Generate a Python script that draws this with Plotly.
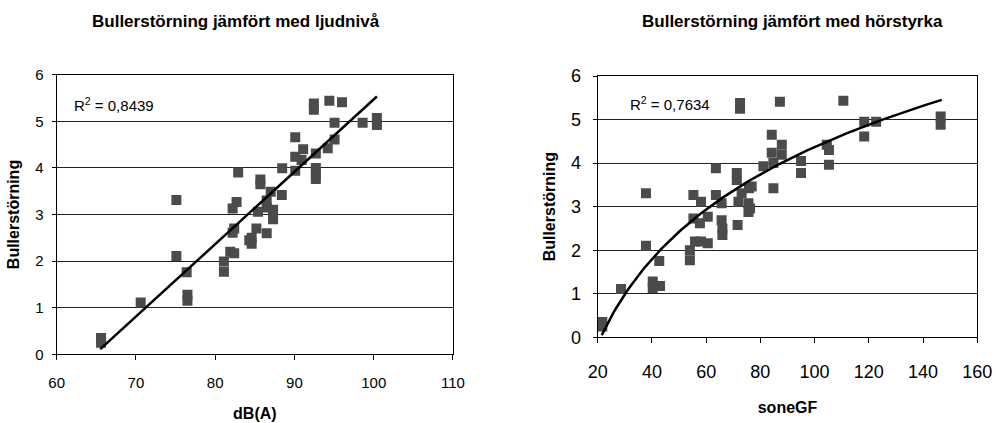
import numpy as np
import plotly.graph_objects as go

# Left chart: Bullerstörning vs dB(A)
dba_x = [65.6, 65.6, 70.6, 75.1, 75.1, 76.4, 76.5, 76.5, 81.1, 81.1, 81.9, 82.4,
         82.2, 82.4, 82.2, 82.7, 82.9, 84.3, 84.6, 84.6, 85.2, 85.4, 85.7, 85.7,
         86.5, 86.5, 86.5, 87.0, 87.3, 87.3, 87.3, 88.4, 88.45, 90.1, 90.1, 90.1,
         90.9, 91.1, 92.7, 92.7, 92.7, 92.7, 92.45, 92.45, 94.2, 94.4, 95.06, 95.06,
         96.0, 98.6, 100.4, 100.4]
dba_y = [0.35, 0.25, 1.11, 3.31, 2.11, 1.76, 1.28, 1.15, 1.99, 1.77, 2.20, 2.17,
         2.61, 2.70, 3.13, 3.27, 3.90, 2.45, 2.50, 2.37, 2.70, 3.06, 3.75, 3.65,
         2.60, 3.30, 3.15, 3.49, 3.10, 3.00, 2.90, 3.42, 3.99, 3.94, 4.24, 4.66,
         4.17, 4.40, 4.31, 4.00, 3.88, 3.76, 5.25, 5.38, 4.42, 5.44, 4.61, 4.97,
         5.41, 4.97, 5.07, 4.92]

# Right chart: Bullerstörning vs soneGF
sone_x = [21.7, 21.7, 28.6, 37.8, 37.8, 42.7, 40.3, 40.3, 43.0, 54.0, 54.0, 55.9,
          58.1, 60.6, 55.3, 58.1, 55.3, 57.7, 60.6, 63.6, 63.6, 65.7, 65.7, 66.0,
          66.0, 71.3, 71.3, 71.9, 71.6, 73.1, 75.8, 75.6, 75.6, 72.5, 72.5, 87.2,
          110.6, 146.5, 146.5, 118.3, 122.7, 118.3, 84.2, 87.9, 104.5, 105.3, 84.2,
          87.9, 81.1, 84.8, 95.0, 95.0, 105.3, 76.8, 84.8, 76.2]
sone_y = [0.35, 0.25, 1.11, 3.31, 2.10, 1.75, 1.28, 1.13, 1.18, 2.00, 1.77, 2.20,
          2.20, 2.16, 3.27, 3.11, 2.73, 2.62, 2.77, 3.88, 3.27, 3.08, 2.69, 2.50,
          2.35, 3.77, 3.61, 3.11, 2.58, 3.31, 3.42, 3.08, 2.88, 5.38, 5.25, 5.41,
          5.43, 5.07, 4.88, 4.95, 4.95, 4.61, 4.65, 4.42, 4.42, 4.30, 4.24, 4.19,
          3.93, 4.00, 4.05, 3.77, 3.96, 3.46, 3.42, 2.96]

# Trend line parameters
left_trend = [0.1553, -10.06]          # y = slope*x + intercept
left_trend_range = [65.5, 100.4]
right_trend = [2.81, -8.57]            # y = a*ln(x) + b
right_trend_range = [21.5, 146.9]

left_title = "Bullerstörning jämfört med ljudnivå"
right_title = "Bullerstörning jämfört med hörstyrka"
y_title = "Bullerstörning"
left_xtitle = "dB(A)"
right_xtitle = "soneGF"
left_r2 = "R<sup>2</sup> = 0,8439"
right_r2 = "R<sup>2</sup> = 0,7634"

lt_x = np.linspace(left_trend_range[0], left_trend_range[1], 50)
lt_y = left_trend[0] * lt_x + left_trend[1]
rt_x = np.linspace(right_trend_range[0], right_trend_range[1], 150)
rt_y = right_trend[0] * np.log(rt_x) + right_trend[1]

FONT = "Liberation Sans, Arial, sans-serif"
MC = "#4b4b4b"

fig = go.Figure()
fig.add_trace(go.Scatter(x=dba_x, y=dba_y, mode="markers", xaxis="x", yaxis="y",
                         marker=dict(symbol="square", size=10, color=MC), showlegend=False))
fig.add_trace(go.Scatter(x=lt_x, y=lt_y, mode="lines", xaxis="x", yaxis="y",
                         line=dict(color="black", width=2.5), showlegend=False))
fig.add_trace(go.Scatter(x=sone_x, y=sone_y, mode="markers", xaxis="x2", yaxis="y2",
                         marker=dict(symbol="square", size=10, color=MC), showlegend=False))
fig.add_trace(go.Scatter(x=rt_x, y=rt_y, mode="lines", xaxis="x2", yaxis="y2",
                         line=dict(color="black", width=2.5), showlegend=False))

common_x = dict(showgrid=False, zeroline=False, showline=True, linecolor="black", linewidth=1,
                mirror=True, ticks="outside", ticklen=5, tickcolor="black", automargin=False)
common_y = dict(showgrid=True, gridcolor="#222", gridwidth=1, zeroline=False, showline=True,
                linecolor="black", linewidth=1, mirror=True, ticks="outside", ticklen=4,
                tickcolor="black", range=[0, 6], dtick=1, automargin=False)

fig.update_layout(
    width=996, height=423, margin=dict(l=0, r=0, t=0, b=0, pad=0),
    paper_bgcolor="white", plot_bgcolor="white",
    font=dict(family=FONT, color="black"),
    xaxis=dict(domain=[0.0569, 0.4548], range=[60, 110], dtick=10, anchor="y",
               tickfont=dict(size=15), ticklabelstandoff=10,
               title=dict(text="<b>" + left_xtitle + "</b>", font=dict(size=16), standoff=17),
               **common_x),
    yaxis=dict(domain=[0.1624, 0.8234], anchor="x", tickfont=dict(size=15), ticklabelstandoff=5,
               title=dict(text="<b>" + y_title + "</b>", font=dict(size=16), standoff=11),
               **common_y),
    xaxis2=dict(domain=[0.6001, 0.9812], range=[20, 160], dtick=20, anchor="y2",
                tickfont=dict(size=18), ticklabelstandoff=13,
                title=dict(text="<b>" + right_xtitle + "</b>", font=dict(size=16), standoff=20),
                **common_x),
    yaxis2=dict(domain=[0.2026, 0.8203], anchor="x2", tickfont=dict(size=18), ticklabelstandoff=8,
                title=dict(text="<b>" + y_title + "</b>", font=dict(size=16), standoff=11),
                **common_y),
    annotations=[
        dict(text="<b>" + left_title + "</b>", x=236 / 996, y=1 - 22 / 423, xref="paper", yref="paper",
             showarrow=False, font=dict(size=17), xanchor="center", yanchor="middle"),
        dict(text="<b>" + right_title + "</b>", x=792 / 996, y=1 - 22 / 423, xref="paper", yref="paper",
             showarrow=False, font=dict(size=17), xanchor="center", yanchor="middle"),
        dict(text=left_r2, x=72 / 996, y=1 - 104 / 423, xref="paper", yref="paper",
             showarrow=False, font=dict(size=15), xanchor="left", yanchor="middle"),
        dict(text=right_r2, x=628 / 996, y=1 - 103 / 423, xref="paper", yref="paper",
             showarrow=False, font=dict(size=15), xanchor="left", yanchor="middle"),
    ],
)

fig.write_html("out.html")
